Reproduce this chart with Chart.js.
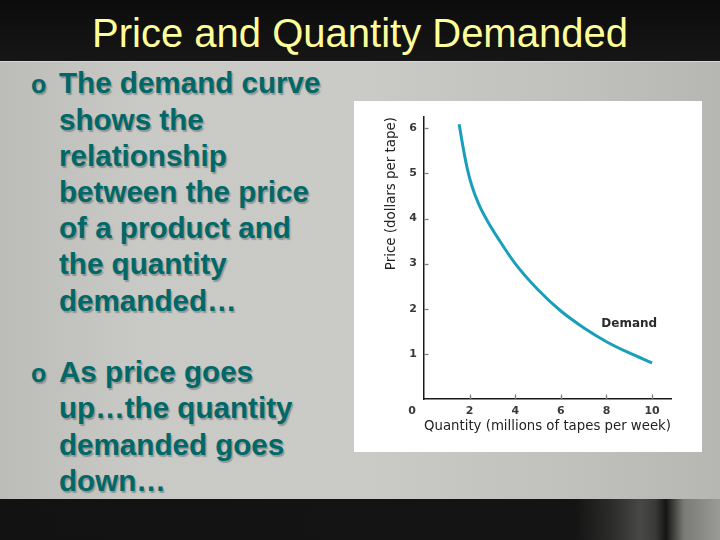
<!DOCTYPE html>
<html><head><meta charset="utf-8">
<script src="https://cdn.jsdelivr.net/npm/chart.js@4.4.0/dist/chart.umd.min.js"></script>
<style>
html,body{margin:0;padding:0;width:720px;height:540px;overflow:hidden;background:#000}
#slide{position:relative;width:720px;height:540px;overflow:hidden}
#top{position:absolute;left:0;top:0;width:720px;height:61px;background:linear-gradient(#0c0c0c,#161616)}
#mid{position:absolute;left:0;top:61px;width:720px;height:437px;border-top:1px solid #d6d6d2;border-bottom:1px solid #e2e2de;background:linear-gradient(90deg,#bcbcb8 0%,#c9c9c5 20%,#cacac6 50%,#c0c0bc 80%,#b6b6b2 100%)}
#bot{position:absolute;left:0;top:499px;width:720px;height:41px;background:linear-gradient(90deg,#121212 0%,#141414 80%,#2c2c2a 85%,#484846 89%,#3a3a38 91%,#151515 92.5%,#7a7a76 95%,#9a9a96 100%)}
#title{position:absolute;left:0;top:13.2px;width:720px;text-align:center;font:40px/40px "Liberation Sans",Arial,sans-serif;color:#ffff99;white-space:nowrap}
.bul{position:absolute;left:59px;font:bold 29.6px/36.2px "Liberation Sans",Arial,sans-serif;color:#006868;text-shadow:1.5px 1.5px 1px rgba(80,90,90,0.45);white-space:nowrap}
.dot{position:absolute;left:31px;font:bold 25px/36.2px "Liberation Sans",Arial,sans-serif;color:#006868;text-shadow:1.5px 1.5px 1px rgba(80,90,90,0.45)}
#panel{position:absolute;left:354px;top:101px;width:348px;height:351px;background:#fff}
</style></head>
<body><div id="slide">
<div id="top"></div><div id="mid"></div><div id="bot"></div>
<div id="title">Price and Quantity Demanded</div>
<div class="dot" style="top:66.2px">o</div>
<div class="bul" style="top:65.4px">The demand curve<br>shows the<br>relationship<br>between the price<br>of a product and<br>the quantity<br>demanded…</div>
<div class="dot" style="top:355.2px">o</div>
<div class="bul" style="top:354.2px">As price goes<br>up…the quantity<br>demanded goes<br>down…</div>
<div id="panel"><canvas id="c" width="348" height="351"></canvas></div>
</div>
<script>
// Demand curve (quantity in millions of tapes per week, price in dollars per tape)
const quantity = [1.54, 1.72, 1.90, 2.10, 2.40, 2.80, 3.30, 4.0, 5.0, 6.0, 7.0, 8.0, 9.0, 10.0];
const price    = [6.09, 5.56, 5.10, 4.72, 4.32, 3.93, 3.52, 3.00, 2.42, 1.95, 1.58, 1.27, 1.02, 0.80];
const xTicks = [0, 2, 4, 6, 8, 10];
const yTicks = [0, 1, 2, 3, 4, 5, 6];
const seriesLabel = 'Demand';
const xTitle = 'Quantity (millions of tapes per week)';
const yTitle = 'Price (dollars per tape)';
const originLabel = '0';

const points = quantity.map((q, i) => ({x: q, y: price[i]}));
const tickFont = {family: 'DejaVu Sans', size: 11, weight: 'bold'};
const tickPad = 6;

const extras = {
  id: 'extras',
  afterDraw(chart) {
    const {ctx, chartArea, scales: {x, y}} = chart;
    ctx.save();
    ctx.strokeStyle = '#808080';
    ctx.lineWidth = 1.3;
    xTicks.filter(v => v > 0).forEach(v => {
      const px = Math.round(x.getPixelForValue(v)) + 0.5;
      ctx.beginPath(); ctx.moveTo(px, chartArea.bottom - 4.5); ctx.lineTo(px, chartArea.bottom); ctx.stroke();
    });
    yTicks.filter(v => v > 0).forEach(v => {
      const py = Math.round(y.getPixelForValue(v)) + 0.5;
      ctx.beginPath(); ctx.moveTo(chartArea.left, py); ctx.lineTo(chartArea.left + 4.5, py); ctx.stroke();
    });
    // origin label
    ctx.fillStyle = '#3a3a3a';
    ctx.font = 'bold 11px "DejaVu Sans"';
    ctx.textAlign = 'center'; ctx.textBaseline = 'middle';
    ctx.fillText(originLabel, x.getPixelForValue(0) - 12, chartArea.bottom + tickPad + 6.6);
    // series label
    ctx.fillStyle = '#2b2b2b';
    ctx.font = 'bold 12px "DejaVu Sans"';
    ctx.fillText(seriesLabel, x.getPixelForValue(9.0), y.getPixelForValue(1.66));
    ctx.restore();
  }
};

new Chart(document.getElementById('c'), {
  type: 'line',
  data: {datasets: [{
    label: seriesLabel,
    data: points,
    borderColor: '#1a9fbb',
    borderWidth: 3,
    pointRadius: 0,
    fill: false,
    cubicInterpolationMode: 'monotone'
  }]},
  options: {
    responsive: false,
    animation: false,
    layout: {padding: {top: 16, right: 31, left: 0, bottom: 0}},
    plugins: {legend: {display: false}, tooltip: {enabled: false}},
    scales: {
      x: {
        type: 'linear', min: 0, max: 10.83,
        afterBuildTicks: s => { s.ticks = xTicks.map(v => ({value: v})); },
        afterFit: s => { s.height = 53; },
        grid: {drawOnChartArea: false, drawTicks: false},
        border: {display: true, color: '#1a1a1a', width: 1.5},
        ticks: {padding: tickPad, color: '#3a3a3a', font: tickFont, autoSkip: false, maxRotation: 0,
          callback: v => (v === 0 ? '' : String(v))},
        title: {display: true, text: xTitle, color: '#222', font: {family: 'DejaVu Sans', size: 13.4},
          padding: {top: 0, bottom: 17.3}}
      },
      y: {
        type: 'linear', min: 0, max: 6.25,
        afterBuildTicks: s => { s.ticks = yTicks.map(v => ({value: v})); },
        afterFit: s => { s.width = 70; },
        grid: {drawOnChartArea: false, drawTicks: false},
        border: {display: true, color: '#1a1a1a', width: 1.5},
        ticks: {padding: 7, color: '#3a3a3a', font: tickFont, autoSkip: false,
          callback: v => (v === 0 ? '' : String(v))},
        title: {display: true, text: yTitle, align: 'end', color: '#222', font: {family: 'DejaVu Sans', size: 13.4},
          padding: {top: 29, bottom: 0}}
      }
    }
  },
  plugins: [extras]
});
</script>
</body></html>
